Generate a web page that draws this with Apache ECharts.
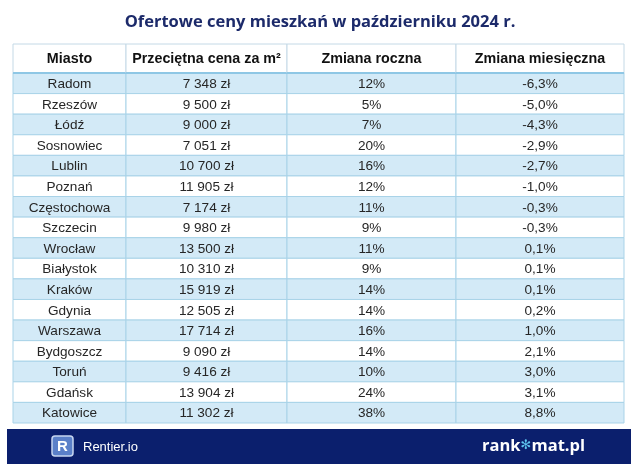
<!DOCTYPE html>
<html>
<head>
<meta charset="utf-8">
<script src="https://cdn.jsdelivr.net/npm/echarts@6/dist/echarts.min.js"></script>
<style>
html,body{margin:0;padding:0;background:#fff;}
#chart{width:640px;height:475px;}
</style>
</head>
<body>
<div id="chart"></div>
<script>
const titleText = 'Ofertowe ceny mieszkań w październiku 2024 r.';
const headers = ['Miasto', 'Przeciętna cena za m²', 'Zmiana roczna', 'Zmiana miesięczna'];
const cities = ['Radom','Rzeszów','Łódź','Sosnowiec','Lublin','Poznań','Częstochowa','Szczecin','Wrocław','Białystok','Kraków','Gdynia','Warszawa','Bydgoszcz','Toruń','Gdańsk','Katowice'];
const prices = [7348, 9500, 9000, 7051, 10700, 11905, 7174, 9980, 13500, 10310, 15919, 12505, 17714, 9090, 9416, 13904, 11302];
const yearlyChange = [12, 5, 7, 20, 16, 12, 11, 9, 11, 9, 14, 14, 16, 14, 10, 24, 38];
const monthlyChange = [-6.3, -5.0, -4.3, -2.9, -2.7, -1.0, -0.3, -0.3, 0.1, 0.1, 0.1, 0.2, 1.0, 2.1, 3.0, 3.1, 8.8];

// column boundaries (layout, in table pixel units)
const colEdges = [0, 113, 274, 443, 611];

function fmtPrice(v){ return String(v).replace(/\B(?=(\d{3})+(?!\d))/g, ' ') + ' zł'; }
function fmtYear(v){ return v + '%'; }
function fmtMonth(v){ return v.toFixed(1).replace('.', ',') + '%'; }

function cellText(c, r){
  if (c === 0) return cities[r];
  if (c === 1) return fmtPrice(prices[r]);
  if (c === 2) return fmtYear(yearlyChange[r]);
  return fmtMonth(monthlyChange[r]);
}

const bodyData = [];
cities.forEach((_, r) => { for (let c = 0; c < 4; c++) bodyData.push([c, r]); });
const headData = headers.map((_, c) => [c, 0]);

const BORDER = '#a9d3e8';

function renderBody(params, api){
  const c = api.value(0), r = api.value(1);
  const p0 = api.coord([colEdges[c], r]);
  const p1 = api.coord([colEdges[c+1], r]);
  const h = api.size([0, 1])[1];
  return {
    type: 'group',
    children: [
      { type: 'rect', shape: { x: p0[0], y: p0[1] - h/2, width: p1[0] - p0[0], height: h },
        style: { fill: r % 2 === 0 ? '#d3eaf7' : '#ffffff', stroke: BORDER, lineWidth: 1 } },
      { type: 'text', style: { text: cellText(c, r), x: (p0[0] + p1[0]) / 2, y: p0[1] + 1,
        align: 'center', verticalAlign: 'middle', fontSize: 13.6, fontFamily: '"Liberation Sans", Arial, sans-serif', fill: '#262626' } }
    ]
  };
}

function renderHead(params, api){
  const c = api.value(0), r = api.value(1);
  const p0 = api.coord([colEdges[c], r]);
  const p1 = api.coord([colEdges[c+1], r]);
  const h = api.size([0, 1])[1];
  const top = p0[1] - h/2;
  return {
    type: 'group',
    children: [
      { type: 'rect', shape: { x: p0[0], y: top, width: p1[0] - p0[0], height: h },
        style: { fill: '#ffffff', stroke: '#c4d9e6', lineWidth: 1 } },
      { type: 'line', shape: { x1: p0[0], y1: top + h, x2: p1[0], y2: top + h },
        style: { stroke: '#8ec7e5', lineWidth: 2 } },
      { type: 'text', style: { text: headers[c], x: (p0[0] + p1[0]) / 2, y: p0[1] + 1,
        align: 'center', verticalAlign: 'middle', fontSize: 14.3, fontWeight: 'bold',
        fontFamily: '"Liberation Sans", Arial, sans-serif', fill: '#111' } }
    ]
  };
}

const chart = echarts.init(document.getElementById('chart'), null, { renderer: 'canvas' });
chart.setOption({
  animation: false,
  backgroundColor: '#ffffff',
  title: {
    text: titleText, left: 'center', top: 9,
    textStyle: { fontSize: 16.5, fontWeight: 'bold', color: '#1c2a6a', fontFamily: '"Open Sans", sans-serif' }
  },
  grid: [
    { left: 13, top: 44, width: 611, height: 29 },
    { left: 13, top: 73, width: 611, height: 350 }
  ],
  xAxis: [
    { type: 'value', gridIndex: 0, min: 0, max: 611, show: false },
    { type: 'value', gridIndex: 1, min: 0, max: 611, show: false }
  ],
  yAxis: [
    { type: 'category', gridIndex: 0, data: ['header'], show: false },
    { type: 'category', gridIndex: 1, data: cities, inverse: true, show: false }
  ],
  series: [
    { type: 'custom', xAxisIndex: 0, yAxisIndex: 0, data: headData, encode: { x: 0, y: 1 }, renderItem: renderHead, z: 3 },
    { type: 'custom', xAxisIndex: 1, yAxisIndex: 1, data: bodyData, encode: { x: 0, y: 1 }, renderItem: renderBody, z: 2 }
  ],
  graphic: [
    { type: 'rect', shape: { x: 7, y: 429, width: 624, height: 35 }, style: { fill: '#0b1f6d' }, z: 10 },
    { type: 'rect', shape: { x: 52, y: 436, width: 21, height: 20, r: 3 }, style: { fill: '#5b80c9', stroke: '#c7d6f0', lineWidth: 1.5 }, z: 11 },
    { type: 'text', x: 62.5, y: 446.5, style: { text: 'R', align: 'center', verticalAlign: 'middle', fontSize: 15, fontWeight: 'bold', fontFamily: '"Liberation Sans", Arial, sans-serif', fill: '#ffffff' }, z: 12 },
    { type: 'text', x: 83, y: 447, style: { text: 'Rentier.io', align: 'left', verticalAlign: 'middle', fontSize: 13, fontFamily: '"Liberation Sans", Arial, sans-serif', fill: '#ffffff' }, z: 12 },
    { type: 'text', x: 585, y: 446, style: {
        text: '{a|rank}{b|✻}{a|mat.pl}', align: 'right', verticalAlign: 'middle',
        rich: {
          a: { fontSize: 16.5, fontWeight: 'bold', fontFamily: '"Open Sans", sans-serif', fill: '#ffffff', color: '#ffffff' },
          b: { fontSize: 13, fontWeight: 'bold', fontFamily: '"DejaVu Sans", sans-serif', fill: '#5fc6f0', color: '#5fc6f0' }
        } }, z: 12 }
  ]
});
</script>
</body>
</html>
